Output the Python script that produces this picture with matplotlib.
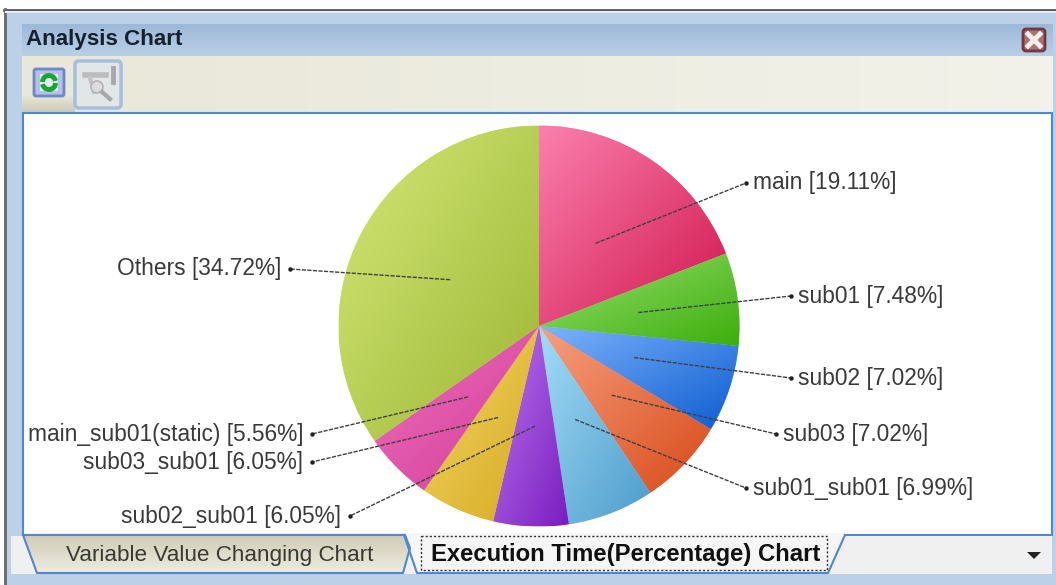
import numpy as np
import matplotlib
matplotlib.use('Agg')
import matplotlib.pyplot as plt
from matplotlib.colors import LinearSegmentedColormap
from matplotlib.patches import Rectangle, Polygon, FancyBboxPatch, Arc

plt.rcParams['font.family'] = ['Liberation Sans', 'DejaVu Sans']

names = ['main', 'sub01', 'sub02', 'sub03', 'sub01_sub01', 'sub02_sub01',
         'sub03_sub01', 'main_sub01(static)', 'Others']
shares = [19.11, 7.48, 7.02, 7.02, 6.99, 6.05, 6.05, 5.56, 34.72]
light = ['#fb80ad', '#9ae070', '#7fb4fb', '#f6a080', '#a4dcf6', '#bb78ee',
         '#f0d868', '#f070bc', '#d4e878']
dark = ['#d0164e', '#3cae0c', '#0c5cd0', '#d84a18', '#4c9ccc', '#7a1cc0',
        '#d8a820', '#d03c98', '#9cb634']
tabs = ['Variable Value Changing Chart', 'Execution Time(Percentage) Chart']

# where each label sits in the window, pixels (tip x, tip y, text side)
label_pos = [(746, 183, 'left'), (791, 296, 'left'), (791, 378, 'left'),
             (776, 434, 'left'), (746, 488, 'left'), (350, 516, 'right'),
             (312, 462, 'right'), (312, 434, 'right'), (290, 269, 'right')]

W, H = 1056, 585
fig = plt.figure(figsize=(W / 100, H / 100), dpi=100, facecolor='#bcd1e8')
ax = fig.add_axes([0, 0, 1, 1])
ax.set_xlim(0, W)
ax.set_ylim(H, 0)
ax.axis('off')


def grad(x0, y0, x1, y1, c0, c1, horizontal=False, z=1, clip=None):
    g = np.linspace(0, 1, 64).reshape(-1, 1)
    if horizontal:
        g = g.T
    cm = LinearSegmentedColormap.from_list('g', [c0, c1])
    im = ax.imshow(g, extent=(x0, x1, y1, y0), cmap=cm, aspect='auto', zorder=z,
                   interpolation='bilinear')
    if clip is not None:
        im.set_clip_path(clip)


# window frame
ax.add_patch(Rectangle((0, 0), W, 9, fc='white', ec='none', zorder=0))
ax.add_patch(Rectangle((0, 0), 4, H, fc='white', ec='none', zorder=0))
ax.plot([4, W], [9.5, 9.5], color='#5a5a5a', lw=2, zorder=2)
ax.plot([4.5, 4.5], [9, H], color='#6a6a6a', lw=2, zorder=2)
ax.plot([6, W], [12, 12], color='#e4ecf5', lw=1.5, zorder=2)
grad(22, 24, W - 3, 56, '#9db9d8', '#b9cfe7')
ax.text(26, 40, 'Analysis Chart', fontsize=16.1, fontweight='bold',
        color='#14202e', va='center', ha='left', zorder=3)

# close button
ax.add_patch(FancyBboxPatch((1023, 29), 22, 22, boxstyle='round,pad=0,rounding_size=3',
                            fc='#b0706c', ec='#6e3a44', lw=2, zorder=3))
ax.plot([1028, 1040], [34, 46], color='#f0f0f0', lw=3.5, zorder=4)
ax.plot([1028, 1040], [46, 34], color='#f0f0f0', lw=3.5, zorder=4)

# toolbar
grad(22, 56, W - 3, 112, '#e8e7d8', '#f3f2ea', horizontal=True)
grad(22, 95, 75, 112, '#e8e7d8', '#cfcbb6')
ax.add_patch(FancyBboxPatch((34, 69), 30, 27, boxstyle='round,pad=0,rounding_size=2',
                            fc='#b4c2ea', ec='#6f86c8', lw=2, zorder=3))
ax.add_patch(Rectangle((40, 74), 18, 17, fc='#e4ecf4', ec='none', zorder=4))
ax.add_patch(Arc((49, 82), 13, 13, theta1=180, theta2=350, color='#18a830', lw=3.5, zorder=5))
ax.add_patch(Arc((49, 83), 13, 13, theta1=0, theta2=170, color='#18a830', lw=3.5, zorder=5))
ax.add_patch(FancyBboxPatch((75, 61), 46, 47, boxstyle='round,pad=0,rounding_size=4',
                            fc='#e2e6e6', ec='#a4bede', lw=2.5, zorder=3))
ax.plot([85, 106], [75, 75], color='#bcbcbc', lw=4, zorder=4)
ax.plot([113, 113], [68, 82], color='#a8a8a8', lw=3.5, zorder=4)
ax.plot([90, 94], [78, 92], color='#c4c4c4', lw=3, zorder=4)
ax.add_patch(plt.Circle((97, 87), 6, fc='#dcdcdc', ec='#b4b4b4', lw=1.2, zorder=4))
ax.plot([102, 110], [92, 99], color='#a8a8a8', lw=3, zorder=4)

# chart panel
ax.add_patch(Rectangle((23, 113), W - 23 - 4, 422, fc='white', ec='#4f86d6', lw=1.5, zorder=1))

# tab strip
ax.add_patch(Rectangle((11, 536), W - 15, 38, fc='#f0f0f0', ec='none', zorder=1))
tab0 = Polygon([(23, 535), (405, 535), (410, 548), (403, 573), (37, 573)], closed=True,
               fc='none', ec='#4f86d6', lw=1.5, zorder=3)
ax.add_patch(tab0)
grad(23, 535, 410, 573, '#cfccb6', '#eeecdf', z=2, clip=tab0)
tab1 = Polygon([(404, 536), (417, 573), (828, 573), (845, 536)], closed=True,
               fc='#f6f6f6', ec='none', zorder=2)
ax.add_patch(tab1)
ax.add_patch(Rectangle((405, 533), 439, 4, fc='#f6f6f6', ec='none', zorder=2))
ax.plot([404, 417, 828, 845], [535, 573, 573, 535], color='#4f86d6', lw=1.5, zorder=3)
ax.text(220, 555, tabs[0], fontsize=16.2, color='#3a3a34', ha='center', va='center', zorder=4)
ax.text(626, 555, tabs[1], fontsize=17.2, fontweight='bold', color='#101010',
        ha='center', va='center', zorder=4)
ax.add_patch(Rectangle((421, 536), 406, 34, fc='none', ec='#303030', lw=1, ls=(0, (1.5, 1.5)), zorder=3))
ax.add_patch(Polygon([(1027, 552), (1041, 552), (1034, 559)], closed=True, fc='#222222', ec='none', zorder=3))

# pie, centre 539,326 radius 200
cx, cy, R = 539, 326, 200.5
pie_ax = fig.add_axes([(cx - R) / W, 1 - (cy + R) / H, 2 * R / W, 2 * R / H], zorder=2)
wedges, _ = pie_ax.pie(shares, startangle=90, counterclock=False, radius=1,
                       colors=light)
pie_ax.axis('off')
pie_ax.patch.set_alpha(0)

for w, c0, c1 in zip(wedges, light, dark):
    cm = LinearSegmentedColormap.from_list('w', [c0, c1])
    # gradient runs top-left to bottom-right over the wedge's own bounds
    t = np.deg2rad(np.linspace(w.theta1, w.theta2, 50))
    xs = np.r_[0, w.r * np.cos(t)]
    ys = np.r_[0, w.r * np.sin(t)]
    x0, x1, y0, y1 = xs.min(), xs.max(), ys.min(), ys.max()
    u, v = np.meshgrid(np.linspace(0, 1, 128), np.linspace(0, 1, 128))
    im = pie_ax.imshow((u + v) / 2, extent=(x0, x1, y0, y1), cmap=cm, zorder=2,
                       aspect='auto', interpolation='bilinear')
    im.set_clip_path(w)
pie_ax.set_xlim(-1, 1)
pie_ax.set_ylim(-1, 1)

# leader lines and labels on top
top = fig.add_axes([0, 0, 1, 1], zorder=3)
top.set_xlim(0, W)
top.set_ylim(H, 0)
top.axis('off')
top.patch.set_alpha(0)
cum = np.cumsum(shares)
mids = cum - np.array(shares) / 2
for name, share, mid, (lx, ly, side) in zip(names, shares, mids, label_pos):
    a = np.deg2rad(mid * 3.6)
    ax0 = cx + 0.5 * R * np.sin(a)
    ay0 = cy - 0.5 * R * np.cos(a)
    top.plot([ax0, lx], [ay0, ly], color='#404040', lw=1, ls=(0, (3, 1)))
    top.plot([lx], [ly], 'o', ms=3.2, color='#202020', mec='none')
    tx = lx + 7 if side == 'left' else lx - 9
    top.text(tx, ly, f'{name} [{share:.2f}%]', fontsize=16.4, color='#3a3a3a',
             ha=side, va='center')

fig.savefig('out.png', dpi=100, facecolor=fig.get_facecolor())
